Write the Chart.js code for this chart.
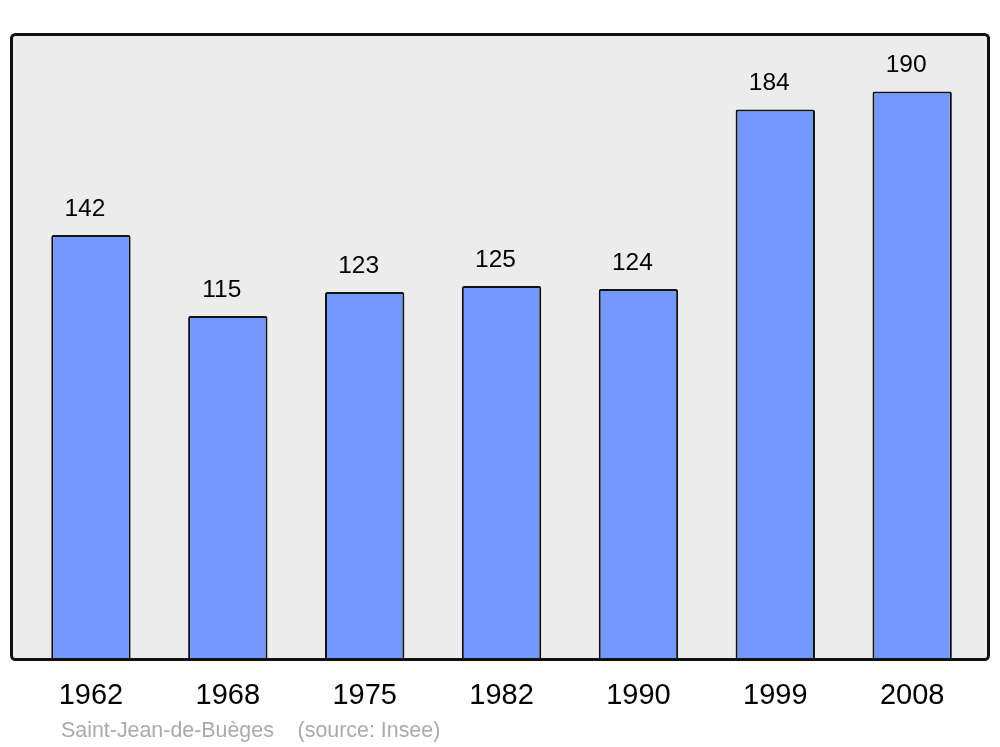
<!DOCTYPE html>
<html>
<head>
<meta charset="utf-8">
<script src="https://cdn.jsdelivr.net/npm/chart.js@4/dist/chart.umd.min.js"></script>
<style>
  html, body { margin: 0; padding: 0; background: #ffffff; }
  #wrap { width: 1000px; height: 747px; position: relative; }
</style>
</head>
<body>
<div id="wrap"><canvas id="popChart" width="1000" height="747"></canvas></div>
<script>
// Population by census year
const years = ['1962', '1968', '1975', '1982', '1990', '1999', '2008'];
const population = [142, 115, 123, 125, 124, 184, 190];
const caption = 'Saint-Jean-de-Buèges    (source: Insee)';

// Grey panel behind the bars, border drawn on top
const panelPlugin = {
  id: 'panel',
  beforeDatasetsDraw(chart) {
    const ctx = chart.ctx;
    ctx.save();
    ctx.beginPath();
    ctx.roundRect(11.5, 34.5, 977, 625, 4);
    ctx.fillStyle = '#ececec';
    ctx.fill();
    ctx.restore();
  },
  afterDatasetsDraw(chart) {
    const ctx = chart.ctx;
    ctx.save();
    ctx.beginPath();
    ctx.roundRect(11.5, 34.5, 977, 625, 4);
    ctx.lineWidth = 3;
    ctx.strokeStyle = '#111111';
    ctx.stroke();
    ctx.restore();
  }
};

// Value above each bar
const valueLabels = {
  id: 'valueLabels',
  afterDatasetsDraw(chart) {
    const ctx = chart.ctx;
    const meta = chart.getDatasetMeta(0);
    ctx.save();
    ctx.font = '24.5px "Liberation Sans", Arial, sans-serif';
    ctx.fillStyle = '#000000';
    ctx.textAlign = 'center';
    ctx.textBaseline = 'alphabetic';
    meta.data.forEach((bar, i) => {
      ctx.fillText(String(population[i]), bar.x - 6, bar.y - 19);
    });
    ctx.restore();
  }
};

// Source line under the axis
const captionPlugin = {
  id: 'caption',
  afterDraw(chart) {
    const ctx = chart.ctx;
    ctx.save();
    ctx.font = '21.4px "Liberation Sans", Arial, sans-serif';
    ctx.fillStyle = '#aaaaaa';
    ctx.textAlign = 'left';
    ctx.textBaseline = 'alphabetic';
    ctx.fillText(caption, 61, 737);
    ctx.restore();
  }
};

new Chart(document.getElementById('popChart').getContext('2d'), {
  type: 'bar',
  data: {
    labels: years,
    datasets: [{
      data: population,
      backgroundColor: '#7399ff',
      borderColor: '#111111',
      borderWidth: 2,
      borderRadius: 2,
      barPercentage: 0.58,
      categoryPercentage: 1
    }]
  },
  options: {
    responsive: false,
    animation: false,
    layout: {
      padding: { left: 22.5, right: 19.4, top: 34, bottom: 0 }
    },
    plugins: {
      legend: { display: false },
      tooltip: { enabled: false }
    },
    scales: {
      x: {
        grid: { display: false, drawTicks: false },
        border: { display: false },
        ticks: {
          color: '#000000',
          padding: 19,
          font: { family: '"Liberation Sans", Arial, sans-serif', size: 29 }
        },
        afterFit(scale) { scale.height = 87; }
      },
      y: {
        display: false,
        min: 0,
        max: 209.2
      }
    }
  },
  plugins: [panelPlugin, valueLabels, captionPlugin]
});
</script>
</body>
</html>
